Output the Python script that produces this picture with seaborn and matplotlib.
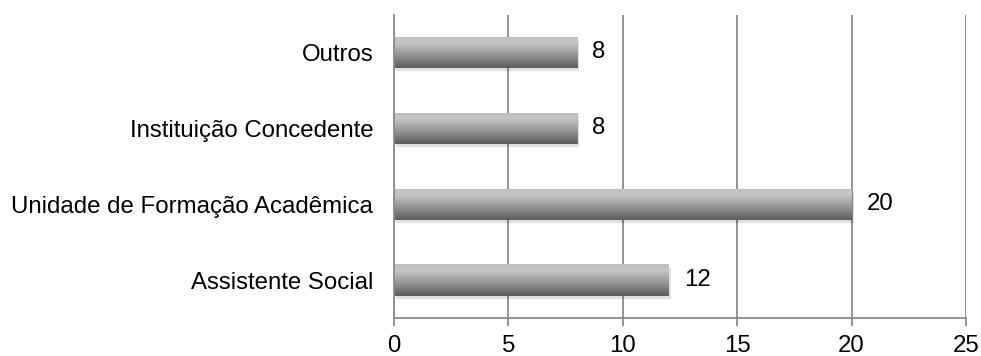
import numpy as np
import pandas as pd
import matplotlib
matplotlib.use("Agg")
import matplotlib.pyplot as plt
import matplotlib.patheffects as pe
from matplotlib.colors import LinearSegmentedColormap
import seaborn as sns

categories = ["Outros", "Instituição Concedente", "Unidade de Formação Acadêmica", "Assistente Social"]
values = [8, 8, 20, 12]
xticks = [0, 5, 10, 15, 20, 25]

sns.set_theme(style="white")
plt.rcParams["font.family"] = ["Liberation Sans", "DejaVu Sans"]

df = pd.DataFrame({"cat": categories, "val": values})

fig = plt.figure(figsize=(9.81, 3.56), dpi=100)
ax = fig.add_axes([394/981, 1-318/356, 572/981, 303/356])

sns.barplot(data=df, x="val", y="cat", orient="h", color="#909090", width=0.41,
            ax=ax, zorder=2, linewidth=0, edgecolor="none")

grid_c = "#8a8a8a"
fs = 17.3
ax.set_xlim(0, 25)
ax.set_ylim(3.5, -0.49)
ax.set_xticks(xticks)
ax.xaxis.grid(True, color=grid_c, linewidth=1.3, zorder=0)
ax.yaxis.grid(False)
ax.set_axisbelow(True)
for s in ["top", "right"]:
    ax.spines[s].set_visible(False)
for s in ["left", "bottom"]:
    ax.spines[s].set_color(grid_c)
    ax.spines[s].set_linewidth(1.3)
ax.tick_params(axis="x", which="major", bottom=True, length=6, width=1.3, color=grid_c,
               labelsize=fs, pad=6, labelcolor="black")
ax.tick_params(axis="y", length=0, pad=15, labelsize=fs, labelcolor="black")
ax.set_xlabel("")
ax.set_ylabel("")

cmap = LinearSegmentedColormap.from_list(
    "g", [(0.0, "#bdbdbd"), (0.2, "#c6c6c6"), (0.55, "#9a9a9a"), (1.0, "#5c5c5c")])
grad = np.linspace(0, 1, 256).reshape(-1, 1)
for p in ax.patches:
    x0, y0 = p.get_x(), p.get_y()
    w, h = p.get_width(), p.get_height()
    p.set_linewidth(0)
    p.set_path_effects([pe.SimplePatchShadow(offset=(1.5, -2.5), shadow_rgbFace="#000000", alpha=0.12),
                        pe.Normal()])
    im = ax.imshow(grad, cmap=cmap, aspect="auto", extent=(x0, x0 + w, y0 + h, y0),
                   origin="upper", zorder=2.5, interpolation="bilinear")
    im.set_clip_path(p)

ax.set_xlim(0, 25)
ax.set_ylim(3.5, -0.49)

ax.bar_label(ax.containers[0], labels=[str(v) for v in values], padding=11, fontsize=fs,
             color="black")

fig.savefig("out.png", dpi=100)
